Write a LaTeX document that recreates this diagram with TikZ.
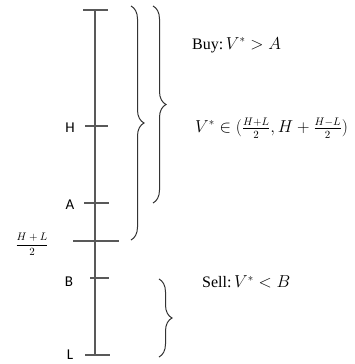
\documentclass[tikz,border=0pt]{standalone}
\usepackage{fontspec}
\usepackage{amsmath}
\setmainfont{Liberation Serif}
\newfontfamily\labfont{Carlito}
\usetikzlibrary{decorations.pathreplacing}
\begin{document}
\begin{tikzpicture}[x=1pt,y=-1pt,
  axis/.style={draw=black!65, line width=1.3pt},
  brc/.style={draw=black!80, line width=1pt, decorate, decoration={brace, amplitude=13pt}},
  lab/.style={font=\labfont\fontsize{15}{15}\selectfont, inner sep=0pt},
  txt/.style={font=\fontsize{16}{18}\selectfont, inner sep=0pt, anchor=west}]
\useasboundingbox (0,0) rectangle (355,364);
% axis
\coordinate (top) at (95,10);
\coordinate (bot) at (95,355);
\draw[axis] (top) -- (bot);
\draw[axis] (83,10) -- (108,10);
\draw[axis] (85,126) -- (108,126);
\draw[axis] (84,203) -- (109,203);
\draw[axis] (73,241) -- (119,241);
\draw[axis] (90,278) -- (109,278);
\draw[axis] (85,355) -- (110,355);
% labels
\node[lab] (lH) at (70,128) {H};
\node[lab] (lA) at (70,205) {A};
\node[lab] (lB) at (69,282) {B};
\node[lab] (lL) at (70,355) {L};
\node[inner sep=0pt, font=\fontsize{10.5}{11}\selectfont] (lM) at (32,244) {$\dfrac{H+L}{2}$};
% braces
\draw[brc] (131,6) -- (131,240);
\draw[brc] (153,6) -- (153,203);
\draw[brc] (159,279) -- (159,357);
% texts
\node[txt] (buy) at (192,45) {Buy:\,$V^{*} > A$};
\node[txt] (rng) at (195,128) {$V^{*} \in (\frac{H+L}{2}, H + \frac{H-L}{2})$};
\node[txt] (sell) at (202,282) {Sell:\,$V^{*} < B$};
\end{tikzpicture}
\end{document}
